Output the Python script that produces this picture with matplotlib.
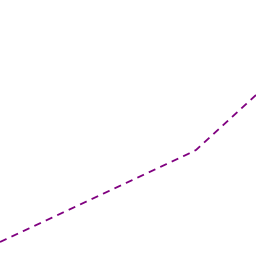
import matplotlib
matplotlib.use("Agg")
import matplotlib.pyplot as plt

x = [0, 188, 196, 256]
y = [14, 102, 106, 161]

fig = plt.figure(figsize=(2.56, 2.56), dpi=100)
ax = fig.add_axes([0, 0, 1, 1])
ax.plot(x, y, color="#800080", linewidth=1.3, linestyle=(0, (4, 3)))
ax.set_xlim(0, 256)
ax.set_ylim(0, 256)
ax.axis("off")
fig.savefig("out.png", dpi=100)
